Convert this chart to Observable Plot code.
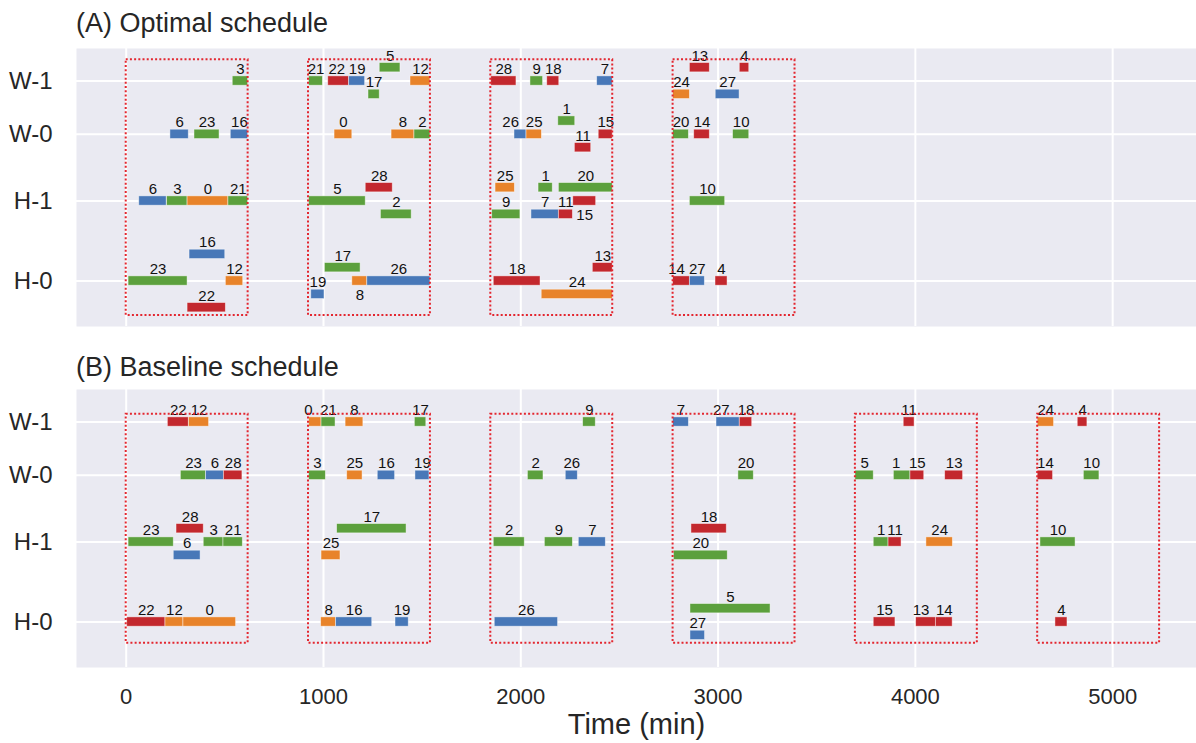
<!DOCTYPE html>
<html>
<head>
<meta charset="utf-8">
<script src="https://cdn.jsdelivr.net/npm/d3@7"></script>
<script src="https://cdn.jsdelivr.net/npm/@observablehq/plot@0.6"></script>
<style>
  html, body { margin: 0; padding: 0; background: #ffffff; }
  #wrap { position: relative; width: 1196px; height: 743px; font-family: "Liberation Sans", Arial, sans-serif; color: #262626; }
  .ttl { position: absolute; left: 76px; font-size: 27px; line-height: 27px; white-space: nowrap; }
  .pan { position: absolute; left: 0; }
</style>
</head>
<body>
<div id="wrap">
  <div class="ttl" style="top:10px">(A) Optimal schedule</div>
  <div class="pan" id="pa" style="top:48px"></div>
  <div class="ttl" style="top:354px">(B) Baseline schedule</div>
  <div class="pan" id="pb" style="top:389px"></div>
</div>
<script>
// ---------- data ----------
const machines = ["H-0", "H-1", "W-0", "W-1"];
const xTicks = [0, 1000, 2000, 3000, 4000, 5000];
const families = ["F1", "F2", "F3", "F4"];
const familyColors = ["#4878b8", "#e8832a", "#5ca03d", "#c3282e"];
// family of each task id 0..28
const taskFamily = ["F2","F3","F3","F3","F4","F3","F1","F1","F2","F3","F3","F4","F2","F4","F4","F4","F1","F3","F4","F1","F3","F3","F4","F3","F2","F2","F1","F1","F4"];
// time windows (dotted boxes)
const windowStarts = [0, 924, 1848, 2772, 3696, 4620];
const windowLength = 618;
const optWindowCount = 4;
const baseWindowCount = 6;

// (A) Optimal schedule
const optMachine = [
  "W-1","W-1","W-1","W-1","W-1","W-1","W-1","W-1","W-1","W-1","W-1","W-1","W-1","W-1","W-1",
  "W-0","W-0","W-0","W-0","W-0","W-0","W-0","W-0","W-0","W-0","W-0","W-0","W-0","W-0",
  "H-1","H-1","H-1","H-1","H-1","H-1","H-1","H-1","H-1","H-1","H-1","H-1","H-1","H-1","H-1",
  "H-0","H-0","H-0","H-0","H-0","H-0","H-0","H-0","H-0","H-0","H-0","H-0","H-0","H-0"];
const optTask = [
  3,21,22,19,12,5,17,28,9,18,7,13,4,24,27,
  6,23,16,0,8,2,26,25,1,15,11,20,14,10,
  6,3,0,21,5,28,2,25,1,20,15,9,7,11,10,
  16,23,12,22,17,19,8,26,13,18,24,14,27,4];
const optStart = [
  540,927,1024,1130,1441,1285,1228,1850,2049,2134,2387,2857,3110,2772,2988,
  224,346,530,1056,1345,1461,1968,2029,2190,2395,2274,2772,2879,3076,
  66,207,311,518,927,1214,1291,1872,2090,2193,2266,1855,2054,2193,2857,
  321,12,505,311,1007,938,1146,1222,2365,1863,2106,2772,2857,2987];
const optEnd = [
  618,997,1130,1211,1542,1390,1285,1978,2113,2195,2466,2958,3158,2857,3109,
  317,473,618,1146,1461,1542,2029,2107,2276,2466,2357,2852,2958,3158,
  205,311,518,618,1214,1351,1447,1970,2162,2466,2382,1998,2193,2264,3036,
  502,311,593,505,1188,1005,1222,1542,2466,2100,2466,2857,2933,3048];
const optLane = [
  0,0,0,0,0,1,-1,0,0,0,0,1,1,-1,-1,
  0,0,0,0,0,0,0,0,1,0,-1,0,0,0,
  0,0,0,0,0,1,-1,1,1,1,0,-1,-1,-1,0,
  2,0,0,-2,1,-1,0,0,1,0,-1,0,0,0];
const optLabelBelow = ["H-0:8", "H-1:15"];

// (B) Baseline schedule
const baseMachine = [
  "W-1","W-1","W-1","W-1","W-1","W-1","W-1","W-1","W-1","W-1","W-1","W-1","W-1",
  "W-0","W-0","W-0","W-0","W-0","W-0","W-0","W-0","W-0","W-0","W-0","W-0","W-0","W-0","W-0","W-0",
  "H-1","H-1","H-1","H-1","H-1","H-1","H-1","H-1","H-1","H-1","H-1","H-1","H-1","H-1","H-1","H-1",
  "H-0","H-0","H-0","H-0","H-0","H-0","H-0","H-0","H-0","H-0","H-0","H-0","H-0"];
const baseTask = [
  22,12,0,21,8,17,9,7,27,18,11,24,4,
  23,6,28,3,25,16,19,2,26,20,5,1,15,13,14,10,
  23,28,6,3,21,17,25,2,9,7,18,20,1,11,24,10,
  22,12,0,8,16,19,26,5,27,15,13,14,4];
const baseStart = [
  211,318,927,990,1112,1463,2316,2772,2992,3110,3941,4620,4823,
  277,405,495,927,1120,1275,1466,2036,2228,3103,3696,3891,3975,4151,4620,4854,
  12,255,241,393,493,1069,990,1863,2122,2294,2865,2776,3789,3864,4056,4634,
  5,199,290,988,1064,1365,1868,2860,2860,3789,4004,4104,4710];
const baseEnd = [
  317,420,990,1061,1202,1521,2380,2852,3110,3173,3996,4703,4872,
  405,495,589,1012,1198,1363,1537,2115,2289,3181,3789,3975,4045,4242,4698,4933,
  241,393,377,493,591,1421,1086,2020,2264,2431,3044,3049,3864,3930,4190,4812,
  199,290,557,1064,1247,1432,2189,3266,2934,3899,4104,4189,4771];
const baseLane = [
  0,0,0,0,0,0,0,0,0,0,0,0,0,
  0,0,0,0,0,0,0,0,0,0,0,0,0,0,0,0,
  0,1,-1,0,0,1,-1,0,0,0,1,-1,0,0,0,0,
  0,0,0,0,0,0,0,1,-1,0,0,0,0];
const baseLabelBelow = [];

// ---------- layout ----------
const rowPos = {"H-0": 0, "H-1": 6, "W-0": 11, "W-1": 15};
const rowVals = machines.map(m => rowPos[m]);
const half = 0.35;
const FONT = "'Liberation Sans', Arial, sans-serif";
// small horizontal shifts (minutes) of crowded labels
const optNudge = {"W-0:26": -50, "H-0:14": -25, "W-1:22": -10};
const baseNudge = {"W-1:0": -35, "W-1:27": -35, "H-0:13": -25, "W-0:1": -30};

function build(mach, task, start, end, lane, below, nudge) {
  return task.map((t, i) => {
    const key = mach[i] + ":" + t;
    return {
      machine: mach[i], task: t, start: start[i], end: end[i], lane: lane[i],
      family: taskFamily[t], y: rowPos[mach[i]] + lane[i],
      below: below.includes(key),
      lx: (start[i] + end[i]) / 2 + (nudge[key] || 0)
    };
  });
}

function panel(data, windows, showX) {
  const yTop = d3.max(data, d => d.y) + half + 0.24;
  const yBot = d3.min(data, d => d.y) - half - 0.24;
  const plotH = 278;
  const mb = showX ? 76 : 0;
  return Plot.plot({
    width: 1196,
    height: plotH + mb,
    marginLeft: 76, marginRight: 0, marginTop: 0, marginBottom: mb,
    x: {domain: [-252, 5425], axis: null},
    y: {domain: [-3.41, 17.44], axis: null},
    color: {domain: families, range: familyColors},
    style: {fontFamily: FONT, background: "transparent", color: "#262626", overflow: "visible"},
    marks: [
      Plot.frame({fill: "#eaeaf2", stroke: "none"}),
      Plot.ruleX(xTicks, {stroke: "white", strokeWidth: 2}),
      Plot.ruleY(rowVals, {stroke: "white", strokeWidth: 2}),
      Plot.rect(data, {
        x1: "start", x2: "end",
        y1: d => d.y - half, y2: d => d.y + half,
        fill: "family", stroke: "white", strokeWidth: 0.8, strokeOpacity: 0.55
      }),
      Plot.text(data.filter(d => !d.below), {
        x: "lx", y: d => d.y + half,
        text: d => String(d.task), lineAnchor: "bottom", dy: -2.5,
        fontSize: 15, fill: "#111"
      }),
      Plot.text(data.filter(d => d.below), {
        x: "lx", y: d => d.y - half,
        text: d => String(d.task), lineAnchor: "top", dy: 4,
        fontSize: 15, fill: "#111"
      }),
      Plot.rect(windows, {
        x1: d => d, x2: d => d + windowLength, y1: yBot, y2: yTop,
        fill: "none", stroke: "#e3262f", strokeWidth: 2, strokeDasharray: "2,2.2"
      }),
      Plot.axisY(rowVals, {
        tickFormat: v => machines[rowVals.indexOf(v)],
        tickSize: 0, tickPadding: 24, fontSize: 24, label: null
      }),
      showX ? Plot.axisX(xTicks, {tickSize: 0, tickPadding: 21, fontSize: 22, label: null, tickFormat: d => String(d)}) : null,
      showX ? Plot.text(["Time (min)"], {frameAnchor: "bottom", dy: 66, fontSize: 29, fill: "#262626"}) : null
    ]
  });
}

const optData = build(optMachine, optTask, optStart, optEnd, optLane, optLabelBelow, optNudge);
const baseData = build(baseMachine, baseTask, baseStart, baseEnd, baseLane, baseLabelBelow, baseNudge);

document.getElementById("pa").appendChild(panel(optData, windowStarts.slice(0, optWindowCount), false));
document.getElementById("pb").appendChild(panel(baseData, windowStarts.slice(0, baseWindowCount), true));
</script>
</body>
</html>
